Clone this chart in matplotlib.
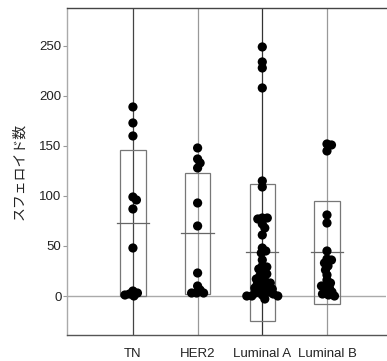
import matplotlib
matplotlib.use("Agg")
import matplotlib.pyplot as plt
import numpy as np
from matplotlib.patches import Rectangle

plt.rcParams["font.family"] = ["Liberation Sans", "Noto Sans CJK JP", "DejaVu Sans"]

categories = ["TN", "HER2", "Luminal A", "Luminal B"]

tn_values = [189, 173, 160, 99, 96, 87, 48, 5, 3, 2, 1, 0]
her2_values = [148, 137, 133, 128, 93, 70, 23, 10, 6, 3, 3, 3]
luma_values = [249, 234, 228, 208, 115, 109, 78, 78, 77, 72, 68, 61, 48, 45, 43,
               36, 30, 29, 27, 24, 22, 20, 18, 17, 15, 13, 13, 12, 10, 9, 8, 7,
               6, 5, 4, 3, 2, 1, 0, 0, 0, -3]
lumb_values = [152, 151, 145, 81, 73, 45, 37, 36, 33, 30, 26, 21, 16, 13, 11, 10,
               8, 5, 4, 2, 1, 0]

group_means = [73, 62.5, 43.5, 43.5]
group_sds = [73, 60.5, 68.5, 51]

y_ticks = [0, 50, 100, 150, 200, 250]

groups = [tn_values, her2_values, luma_values, lumb_values]
positions = np.arange(1, len(categories) + 1)

fig = plt.figure(figsize=(3.87, 3.61), dpi=100)
ax = fig.add_axes([0.173, 0.072, 0.824, 0.906])
ax.set_xlim(-0.02, 4.91)
ax.set_ylim(-39, 288)

# guide lines
line_colors = ["#444444", "#999999", "#333333", "#999999"]
for pos, col in zip(positions, line_colors):
    ax.axvline(pos, color=col, lw=0.9, zorder=1)
ax.axhline(0, color="#aaaaaa", lw=1.0, zorder=1)

# mean +/- SD boxes
box_w = 0.39
mean_w = 0.5
for pos, m, sd in zip(positions, group_means, group_sds):
    ax.add_patch(Rectangle((pos - box_w / 2, m - sd), box_w, 2 * sd,
                           fill=False, edgecolor="#777777", lw=0.9, zorder=2))
    ax.plot([pos - mean_w / 2, pos + mean_w / 2], [m, m], color="#666666", lw=0.9, zorder=2)


def swarm(pos, values, min_dist=4.6):
    # simple beeswarm in pixel space
    fig.canvas.draw()
    trans = ax.transData
    cx = trans.transform((pos, 0))[0]
    placed = []
    out = []
    for v in values:
        py = trans.transform((pos, v))[1]
        offs = [0.0]
        for k in range(1, 60):
            offs += [k * 0.5, -k * 0.5]
        for o in offs:
            ok = True
            for (qx, qy) in placed:
                if (cx + o - qx) ** 2 + (py - qy) ** 2 < min_dist ** 2:
                    ok = False
                    break
            if ok:
                break
        placed.append((cx + o, py))
        out.append(trans.inverted().transform((cx + o, py)))
    return np.array(out)


for pos, vals in zip(positions, groups):
    pts = swarm(pos, vals)
    ax.scatter(pts[:, 0], pts[:, 1], s=44, color="black", edgecolors="none", zorder=3)

ax.set_yticks(y_ticks)
ax.set_xticks(positions)
ax.set_xticklabels(categories)
ax.tick_params(axis="y", length=3, width=0.8, color="#999999", labelsize=9.5,
               labelcolor="#222222", pad=1)
ax.tick_params(axis="x", length=0, labelsize=9.5, labelcolor="#222222", pad=9)

ax.spines["right"].set_visible(False)
ax.spines["left"].set_color("#aaaaaa")
ax.spines["top"].set_color("#444444")
ax.spines["bottom"].set_color("#555555")
for s in ax.spines.values():
    s.set_linewidth(1.0)

ax.set_ylabel("スフェロイド数", fontsize=10, color="#222222", labelpad=9)

fig.savefig("out.png", dpi=100)
